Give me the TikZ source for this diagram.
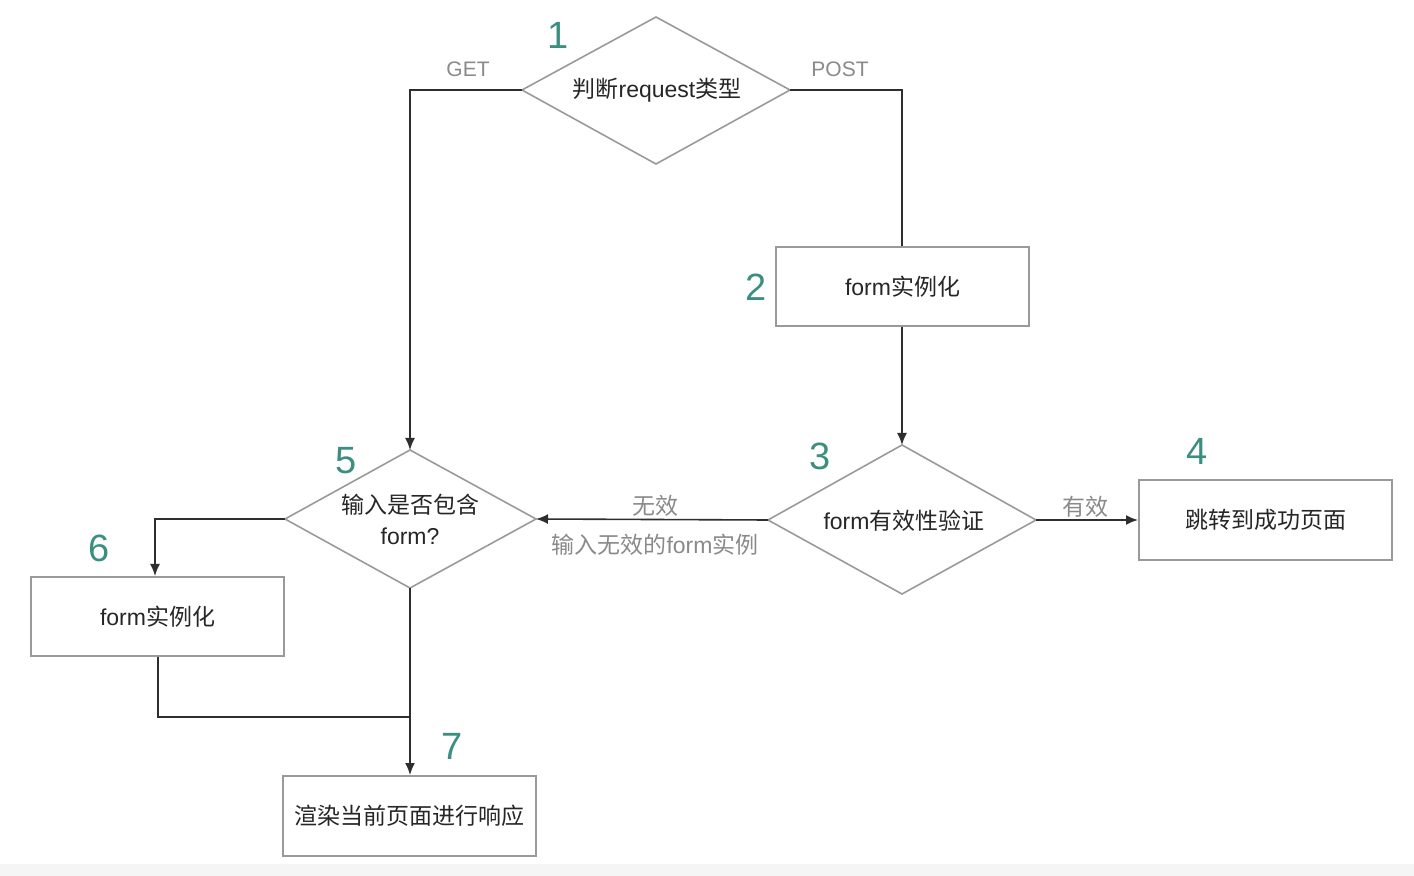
\documentclass[tikz,border=0pt]{standalone}
\usepackage{fontspec}
\setmainfont{Noto Sans CJK SC}
\newfontfamily\numfont{Liberation Sans}
\newcommand{\lat}[1]{{\numfont #1}}
\usetikzlibrary{shapes.geometric,arrows.meta}
\definecolor{shapeline}{HTML}{9A9A9A}
\definecolor{conn}{HTML}{2E2E2E}
\definecolor{numcol}{HTML}{3C8F80}
\definecolor{lblcol}{HTML}{8A8A8A}
\definecolor{txt}{HTML}{262626}
\tikzset{
  box/.style={draw=shapeline, line width=1pt, rectangle, inner sep=0pt, text=txt, font=\fontsize{11.5}{13}\selectfont},
  dialine/.style={draw=shapeline, line width=0.8pt},
  diatext/.style={text=txt, font=\fontsize{11.5}{15.5}\selectfont, align=center},
  num/.style={text=numcol, font=\numfont\fontsize{19}{20}\selectfont},
  lbl/.style={text=lblcol, font=\fontsize{11.5}{13}\selectfont},
  lblsans/.style={text=lblcol, font=\numfont\fontsize{10.5}{12}\selectfont},
  conn/.style={draw=conn, line width=0.8pt},
  arr/.style={conn, -{Latex[length=6pt,width=5pt]}}
}
\begin{document}
\begin{tikzpicture}[x=0.5pt,y=-0.5pt]
\useasboundingbox (0,0) rectangle (1414,876);
\fill[white] (0,0) rectangle (1414,876);
\fill[gray!8] (0,864) rectangle (1414,876);
% diamonds
\coordinate (d1t) at (656,17); \coordinate (d1b) at (656,164);
\coordinate (d1l) at (522,90); \coordinate (d1r) at (790,90);
\draw[dialine] (d1t) -- (d1r) -- (d1b) -- (d1l) -- cycle;
\node[diatext] (d1) at (657,90) {判断\lat{request}类型};

\coordinate (d3t) at (902,445); \coordinate (d3b) at (902,594);
\coordinate (d3l) at (768,520); \coordinate (d3r) at (1036,520);
\draw[dialine] (d3t) -- (d3r) -- (d3b) -- (d3l) -- cycle;
\node[diatext] (d3) at (904,521) {\lat{form}有效性验证};

\coordinate (d5t) at (410,450); \coordinate (d5b) at (410,588);
\coordinate (d5l) at (285,519); \coordinate (d5r) at (536,519);
\draw[dialine] (d5t) -- (d5r) -- (d5b) -- (d5l) -- cycle;
\node[diatext] (d5) at (410,519) {输入是否包含\\\lat{form?}};

% boxes
\node[box, minimum width=126.5pt, minimum height=39.5pt] (b2) at (902.5,286.5) {\lat{form}实例化};
\node[box, minimum width=126.5pt, minimum height=40pt] (b4) at (1265.5,520) {跳转到成功页面};
\node[box, minimum width=126.5pt, minimum height=39.5pt] (b6) at (157.5,616.5) {\lat{form}实例化};
\node[box, minimum width=126.5pt, minimum height=40pt] (b7) at (409.5,816) {渲染当前页面进行响应};

% numbers
\node[num] (n1) at (558,35) {1};
\node[num] (n2) at (756,287) {2};
\node[num] (n3) at (820,456) {3};
\node[num] (n4) at (1197,451) {4};
\node[num] (n5) at (346,461) {5};
\node[num] (n6) at (99,548) {6};
\node[num] (n7) at (452,746) {7};

% connectors
\coordinate (g1) at (410,90);
\draw[arr] (d1l) -- (g1) -- (d5t);
\coordinate (p1) at (902,90);
\draw[conn] (d1r) -- (p1) -- (b2.north -| p1);
\draw[arr] (b2.south -| d3t) -- (d3t);
\draw[arr] (d3r) -- (b4.west);
\draw[arr] (d3l) -- (d5r);
\coordinate (c6) at (155,519);
\draw[arr] (d5l) -- (c6) -- (c6 |- b6.north);
\coordinate (m1) at (158,717);
\coordinate (m2) at (410,717);
\draw[conn] (b6.south -| m1) -- (m1) -- (m2);
\draw[arr] (d5b) -- (d5b |- b7.north);

% labels
\node[lblsans] (lget) at (468,69) {GET};
\node[lblsans] (lpost) at (840,69) {POST};
\node[lbl] (lvalid) at (1085,507) {有效};
\node[lbl] (linv) at (655,506) {无效};
\node[lbl] (linv2) at (655,545) {输入无效的\lat{form}实例};
\end{tikzpicture}
\end{document}
